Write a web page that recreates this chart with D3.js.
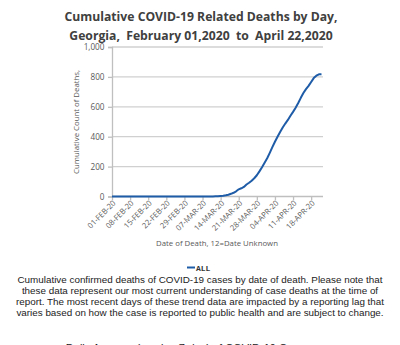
<!DOCTYPE html>
<html><head><meta charset="utf-8">
<script src="https://cdn.jsdelivr.net/npm/d3@7"></script>
<style>
html,body{margin:0;padding:0;background:#fff;overflow:hidden;}
</style></head>
<body>
<svg id="c" width="400" height="345"></svg>
<script>
const startDate = "2020-02-01";
const cumulativeDeaths = [
  0,0,0,0,0,0,0,0,0,0,
  0,0,0,0,0,0,0,0,0,0,
  0,0,0,0,0,0,0,0,0,0,
  0,0,0,0,0,0,0,0,0,0,
  1,1,3,5,8,12,18,25,35,48,
  55,64,80,92,106,122,142,168,196,226,
  256,292,330,366,400,432,462,488,512,540,
  566,594,625,660,692,718,740,766,792,808,
  817,818
];
const yTicks = [0,200,400,600,800,1000];
const xTickLabels = ["01-FEB-20","08-FEB-20","15-FEB-20","22-FEB-20","29-FEB-20","07-MAR-20","14-MAR-20","21-MAR-20","28-MAR-20","04-APR-20","11-APR-20","18-APR-20"];
const titleLines = ["Cumulative COVID-19 Related Deaths by Day,","Georgia,  February 01,2020  to  April 22,2020"];
const noteLines = [
  "Cumulative confirmed deaths of COVID-19 cases by date of death. Please note that",
  "these data represent our most current understanding of case deaths at the time of",
  "report. The most recent days of these trend data are impacted by a reporting lag that",
  "varies based on how the case is reported to public health and are subject to change."
];

const svg = d3.select("#c");
const parse = d3.utcParse("%Y-%m-%d");
const t0 = parse(startDate);
const data = cumulativeDeaths.map((v,i)=>({d:d3.utcDay.offset(t0,i), v}));

const x = d3.scaleUtc().domain([t0, data[data.length-1].d]).range([112, 321.5]);
const y = d3.scaleLinear().domain([0,1000]).range([196.5, 47]);

// title
svg.append("g").selectAll("text").data(titleLines).join("text")
  .attr("x",201).attr("y",(d,i)=>20.5+i*19)
  .attr("text-anchor","middle")
  .attr("font-family","Open Sans, Liberation Sans, sans-serif")
  .attr("font-weight","bold").attr("font-size",12.2)
  .attr("fill","#404040").style("white-space","pre")
  .text(d=>d);

// gridlines
svg.append("g").selectAll("line").data(yTicks.filter(t=>t>0)).join("line")
  .attr("x1",112).attr("x2",323).attr("y1",d=>y(d)).attr("y2",d=>y(d))
  .attr("stroke","#d0d0d0").attr("stroke-width",1.3);

// y axis
const yAxis = svg.append("g").attr("transform","translate(112,0)")
  .call(d3.axisLeft(y).tickValues(yTicks).tickSize(4).tickFormat(d3.format(",")));
yAxis.select(".domain").attr("stroke","#bfbfbf").attr("stroke-width",1.3);
yAxis.selectAll(".tick line").attr("stroke","#bfbfbf").attr("stroke-width",1.3);
yAxis.selectAll("text").attr("font-family","Open Sans, Liberation Sans, sans-serif")
  .attr("font-size",8.2).attr("fill","#595959").attr("x",-7.5);

// x axis
const tickDates = xTickLabels.map((_,i)=>d3.utcDay.offset(t0,i*7));
const xAxis = svg.append("g").attr("transform",`translate(0,${y(0)})`)
  .call(d3.axisBottom(x).tickValues(tickDates).tickSize(4).tickFormat((d,i)=>xTickLabels[i]).tickSizeOuter(0));
xAxis.select(".domain").attr("stroke","#bfbfbf").attr("stroke-width",1.3).attr("d",`M112,0H323`);
xAxis.selectAll(".tick line").attr("stroke","#bfbfbf").attr("stroke-width",1.3);
xAxis.selectAll("text").attr("font-family","Open Sans, Liberation Sans, sans-serif")
  .attr("font-size",7.7).attr("fill","#595959")
  .attr("text-anchor","end").attr("dy","0.3em")
  .attr("transform","translate(2,5.5) rotate(-45)").attr("y",0).attr("x",0);

// line
svg.append("path").datum(data)
  .attr("fill","none").attr("stroke","#1f5ca8").attr("stroke-width",2)
  .attr("stroke-linejoin","round")
  .attr("d", d3.line().x(d=>x(d.d)).y(d=>y(d.v)));

// axis titles
svg.append("text").attr("transform","translate(79,122) rotate(-90)")
  .attr("text-anchor","middle").attr("font-family","Open Sans, Liberation Sans, sans-serif")
  .attr("font-size",7.8).attr("fill","#595959").text("Cumulative Count of Deaths,");
svg.append("text").attr("x",217).attr("y",246)
  .attr("text-anchor","middle").attr("font-family","Open Sans, Liberation Sans, sans-serif")
  .attr("font-size",7.8).attr("fill","#595959").text("Date of Death, 12=Date Unknown");

// legend
svg.append("line").attr("x1",187).attr("x2",195).attr("y1",267.5).attr("y2",267.5)
  .attr("stroke","#1f5ca8").attr("stroke-width",2);
svg.append("text").attr("x",196).attr("y",270.5)
  .attr("font-family","Liberation Mono, DejaVu Sans Mono, monospace").attr("font-weight","bold")
  .attr("font-size",8).attr("fill","#333").text("ALL");

// note
svg.append("g").selectAll("text").data(noteLines).join("text")
  .attr("x",200).attr("y",(d,i)=>282.5+i*11.2)
  .attr("text-anchor","middle")
  .attr("font-family","Liberation Sans, Arial, sans-serif")
  .attr("font-size",9.85).attr("fill","#222")
  .text(d=>d);

// cut-off next chart title
svg.append("text").attr("x",188).attr("y",352)
  .attr("text-anchor","middle")
  .attr("font-family","Liberation Sans, Arial, sans-serif")
  .attr("font-size",11).attr("fill","#222")
  .text("Daily Average (moving 7-day) of COVID-19 Cases");
</script>
</body></html>
